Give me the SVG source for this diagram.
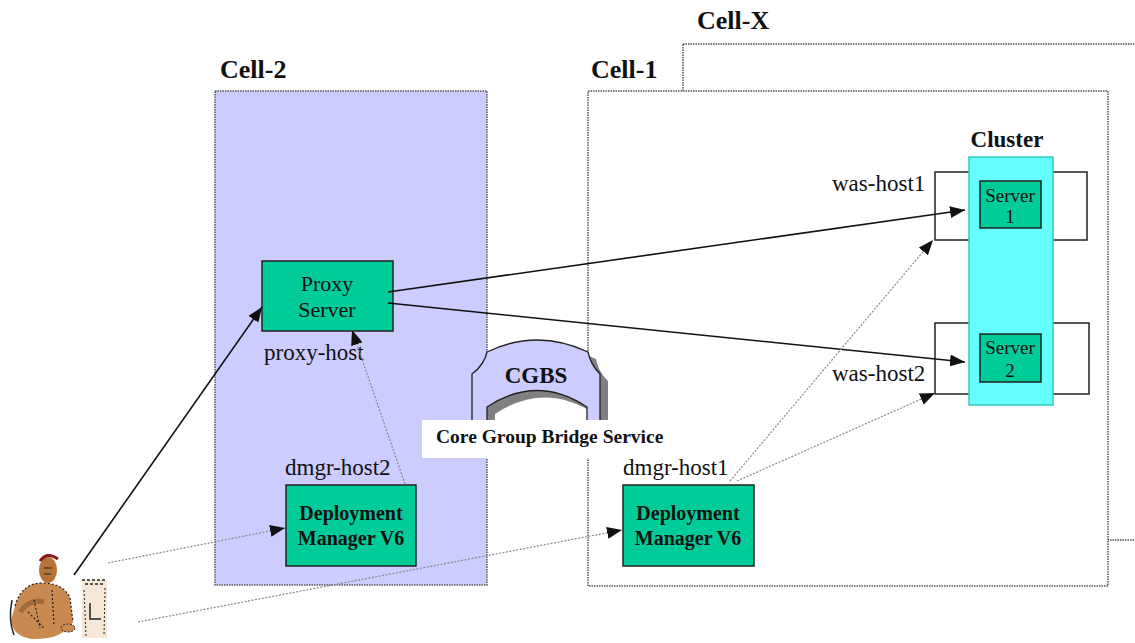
<svg xmlns="http://www.w3.org/2000/svg" width="1135" height="643" viewBox="0 0 1135 643">
  <style>
    .cell { stroke: #555; stroke-width: 1.5; stroke-dasharray: 1.5 1; }
    .title { font-family: "Liberation Serif", serif; font-weight: bold; font-size: 26px; fill: #111; }
    .host { font-family: "Liberation Serif", serif; font-size: 23px; fill: #111; }
    .node { fill: #00CC99; stroke: #222; stroke-width: 1.5; }
    .ntext { font-family: "Liberation Serif", serif; font-size: 22px; fill: #111; text-anchor: middle; }
    .btext { font-family: "Liberation Serif", serif; font-weight: bold; font-size: 20px; fill: #111; text-anchor: middle; }
    .stext { font-family: "Liberation Serif", serif; font-size: 19px; fill: #111; text-anchor: middle; }
    .hostbox { fill: none; stroke: #222; stroke-width: 1.5; }
    .solid { stroke: #111; stroke-width: 1.6; fill: none; }
    .dot { stroke: #888; stroke-width: 1.2; stroke-dasharray: 2 1.5; fill: none; }
  </style>
  <defs>
    <marker id="arrow" markerUnits="userSpaceOnUse" markerWidth="16" markerHeight="12" refX="15" refY="6" orient="auto">
      <path d="M0,0 L15,6 L0,12 Z" fill="#111"/>
    </marker>
  </defs>

  <rect width="1135" height="643" fill="#fff"/>

  <!-- cells -->
  <g id="cell-x">
    <rect x="683" y="44" width="500" height="496" fill="#fff" class="cell"/>
    <text x="697" y="29" class="title">Cell-X</text>
  </g>
  <g id="cell-1">
    <rect x="588" y="91" width="520" height="495" fill="#fff" class="cell"/>
    <text x="591" y="78" class="title">Cell-1</text>
  </g>
  <g id="cell-2">
    <rect x="215" y="91" width="272" height="494" fill="#CCCCFF" class="cell"/>
    <text x="220" y="78" class="title">Cell-2</text>
  </g>

  <!-- core group bridge -->
  <g id="cgbs">
    <path d="M487,352 Q537,328 588,352 C590,362 594,368 600,374 L600,440 L587,440 L587,407 Q537,374 487,407 L487,440 L472,440 L472,374 C480,368 485,362 487,352 Z" fill="#808080" transform="translate(8,7)"/>
    <path d="M487,352 Q537,328 588,352 C590,362 594,368 600,374 L600,440 L587,440 L587,407 Q537,374 487,407 L487,440 L472,440 L472,374 C480,368 485,362 487,352 Z" fill="#CCCCFF" stroke="#222" stroke-width="1.3"/>
    <text x="536" y="383" class="title" font-size="23" text-anchor="middle" style="font-size:23px">CGBS</text>
    <rect x="422" y="420" width="246" height="38" fill="#fff"/>
    <text x="436" y="443" font-family="Liberation Serif, serif" font-weight="bold" font-size="19.5" fill="#111">Core Group Bridge Service</text>
  </g>

  <!-- proxy -->
  <g id="proxy">
    <rect x="262" y="261" width="131" height="70" class="node"/>
    <text x="327" y="291" class="ntext">Proxy</text>
    <text x="327" y="317" class="ntext">Server</text>
    <text x="264" y="360" class="host">proxy-host</text>
  </g>

  <!-- deployment managers -->
  <g id="dmgr2">
    <rect x="286" y="485" width="130" height="81" class="node"/>
    <text x="351" y="520" class="btext">Deployment</text>
    <text x="351" y="545" class="btext">Manager V6</text>
    <text x="285" y="475" class="host">dmgr-host2</text>
  </g>
  <g id="dmgr1">
    <rect x="623" y="485" width="131" height="81" class="node"/>
    <text x="688" y="520" class="btext">Deployment</text>
    <text x="688" y="545" class="btext">Manager V6</text>
    <text x="623" y="475" class="host">dmgr-host1</text>
  </g>

  <!-- hosts and cluster -->
  <g id="was-host1">
    <rect x="935" y="172" width="152" height="68" class="hostbox"/>
    <text x="832" y="191" class="host">was-host1</text>
  </g>
  <g id="was-host2">
    <rect x="935" y="323" width="154" height="71" class="hostbox"/>
    <text x="832" y="381" class="host">was-host2</text>
  </g>
  <g id="cluster">
    <rect x="969" y="157" width="84" height="248" fill="#66FFFF" stroke="#33CCBB" stroke-width="1.5"/>
    <text x="1007" y="147" class="title" text-anchor="middle" style="font-size:23px">Cluster</text>
  </g>
  <g id="server1">
    <rect x="980" y="181" width="61" height="47" class="node"/>
    <text x="1010" y="202" class="stext">Server</text>
    <text x="1010" y="223" class="stext">1</text>
  </g>
  <g id="server2">
    <rect x="980" y="334" width="61" height="48" class="node"/>
    <text x="1010" y="354" class="stext">Server</text>
    <text x="1010" y="377" class="stext">2</text>
  </g>

  <!-- user at workstation -->
  <g id="user">
    <rect x="82" y="580" width="25" height="58" fill="#F6E7D6"/>
    <path d="M82,580 L106,580 M85,584 L105,584" stroke="#222" stroke-width="1.5" stroke-dasharray="3 2"/>
    <path d="M90,603 L90,619 L101,619" stroke="#222" stroke-width="1.5" fill="none"/>
    <path d="M84,590 L86,636 M105,588 L104,636" stroke="#222" stroke-width="1" stroke-dasharray="2 2"/>
    <path d="M15,606 Q22,582 44,583 Q64,584 70,598 L73,622 Q62,640 32,639 Q12,636 11,620 Z" fill="#C98A52"/>
    <path d="M20,612 Q30,598 44,602" stroke="#7A4A22" stroke-width="5" fill="none" opacity="0.5"/>
    <ellipse cx="48" cy="570" rx="9" ry="13" fill="#B8733A"/>
    <path d="M40,561 Q47,551 58,559" stroke="#8B1A1A" stroke-width="3" fill="none"/>
    <path d="M44,568 L52,568 M44,574 L51,574" stroke="#222" stroke-width="1.2"/>
    <path d="M15,606 Q22,582 44,583 Q64,584 70,598 L73,622" stroke="#222" stroke-width="1.2" stroke-dasharray="2 2" fill="none"/>
    <path d="M52,590 L54,625 M34,600 L40,628 M28,612 Q36,620 44,628" stroke="#222" stroke-width="1.2" stroke-dasharray="2 2" fill="none"/>
    <ellipse cx="68" cy="628" rx="7" ry="4" fill="#C98A52" stroke="#222" stroke-width="1" stroke-dasharray="2 1.5"/>
    <path d="M12,600 Q8,620 14,635" stroke="#222" stroke-width="1.5" fill="none"/>
  </g>

  <!-- connectors -->
  <g id="connectors">
    <line x1="74" y1="575" x2="262" y2="307" class="solid" marker-end="url(#arrow)"/>
    <line x1="388" y1="292" x2="965" y2="210" class="solid" marker-end="url(#arrow)"/>
    <line x1="388" y1="303" x2="965" y2="362" class="solid" marker-end="url(#arrow)"/>
    <line x1="108" y1="563" x2="285" y2="528" class="dot" marker-end="url(#arrow)"/>
    <line x1="138" y1="622" x2="622" y2="530" class="dot" marker-end="url(#arrow)"/>
    <line x1="405" y1="484" x2="352" y2="330" class="dot" marker-end="url(#arrow)"/>
    <line x1="730" y1="481" x2="933" y2="240" class="dot" marker-end="url(#arrow)"/>
    <line x1="737" y1="481" x2="935" y2="393" class="dot" marker-end="url(#arrow)"/>
  </g>
</svg>
